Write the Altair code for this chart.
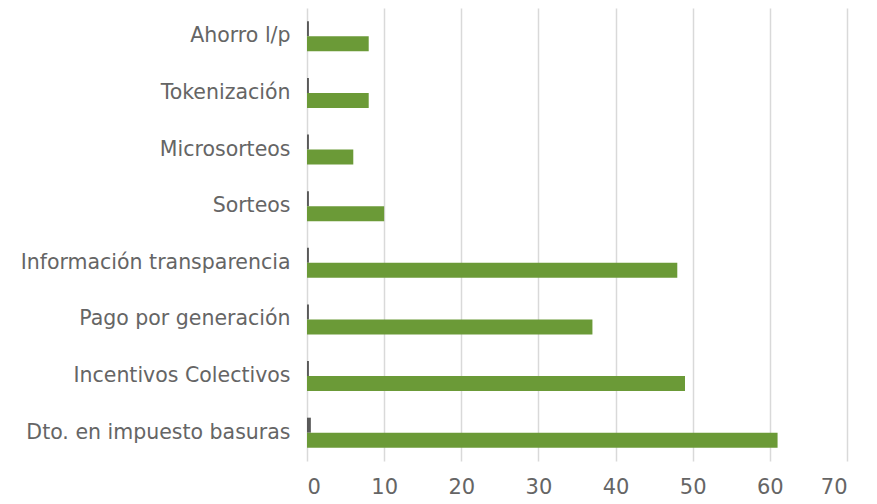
import altair as alt
import pandas as pd

categories = ["Ahorro l/p", "Tokenización", "Microsorteos", "Sorteos",
              "Información transparencia", "Pago por generación",
              "Incentivos Colectivos", "Dto. en impuesto basuras"]
serie_a = [0.25, 0.25, 0.25, 0.25, 0.25, 0.25, 0.25, 0.5]
serie_b = [8, 8, 6, 10, 48, 37, 49, 61]
series_names = ["Serie 1", "Serie 2"]
x_ticks = [0, 10, 20, 30, 40, 50, 60, 70]

rows = []
for c, a, b in zip(categories, serie_a, serie_b):
    rows.append({"cat": c, "serie": series_names[0], "val": a})
    rows.append({"cat": c, "serie": series_names[1], "val": b})
df = pd.DataFrame(rows)

font = "DejaVu Sans"
chart = alt.Chart(df).mark_bar().encode(
    y=alt.Y("cat:N", sort=categories, title=None,
            scale=alt.Scale(paddingInner=0.47, paddingOuter=0.235),
            axis=alt.Axis(domain=False, ticks=False, grid=False, labelPadding=17,
                          labelFontSize=20.5, labelColor="#656565", labelFont=font,
                          labelLimit=400)),
    yOffset=alt.YOffset("serie:N", sort=series_names, scale=alt.Scale(paddingInner=0, paddingOuter=0)),
    x=alt.X("val:Q", title=None,
            scale=alt.Scale(domain=[0, 70], nice=False),
            axis=alt.Axis(values=x_ticks, domain=False, ticks=False, grid=True,
                          gridColor="#d9d9d9", gridWidth=1.5, labelPadding=15,
                          labelFontSize=21, labelColor="#656565", labelFont=font)),
    color=alt.Color("serie:N", scale=alt.Scale(domain=series_names, range=["#595959", "#6b9a37"]),
                    legend=None),
).properties(
    width=540, height=453,
    autosize=alt.AutoSizeParams(type="none"),
    padding={"left": 299, "top": 0, "right": 20, "bottom": 40},
).configure_view(stroke=None)

chart.save("out.html", embed_options={"renderer": "svg", "actions": False})
